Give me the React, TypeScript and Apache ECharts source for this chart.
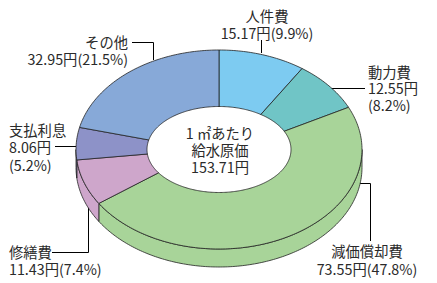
import React, { useEffect, useRef } from "react";
import * as echarts from "echarts";

const names = ["人件費", "動力費", "減価償却費", "修繕費", "支払利息", "その他"];
const values = [15.17, 12.55, 73.55, 11.43, 8.06, 32.95];
const percents = [9.9, 8.2, 47.8, 7.4, 5.2, 21.5];
const colors = ["#7dcbf1", "#70c5c6", "#a8d499", "#cea6cb", "#8d92c8", "#87a9d8"];
const centerLines = ["1 ㎡あたり", "給水原価", "153.71円"];

const CX = 219;
const CY = 149.5;
const RX = 143;
const RY = 99.5;
const IRX = 72;
const IRY = 43;
const DEPTH = 18;

const FONT = "'Noto Sans CJK JP', 'Noto Sans', sans-serif";
const TXT = "#2a2a2a";

function pt(rx: number, ry: number, deg: number, dy = 0) {
  const r = (deg * Math.PI) / 180;
  return [CX + rx * Math.cos(r), CY - ry * Math.sin(r) + dy];
}

function arc(rx: number, ry: number, a0: number, a1: number, dy = 0) {
  const pts: number[][] = [];
  const n = Math.max(2, Math.ceil(Math.abs(a1 - a0)));
  for (let k = 0; k <= n; k++) {
    pts.push(pt(rx, ry, a0 + ((a1 - a0) * k) / n, dy));
  }
  return pts;
}

function label(x: number, yc: number, lines: string[], align: string, lh = 17) {
  return {
    type: "text",
    x,
    y: yc,
    style: {
      text: lines.join("\n"),
      fill: TXT,
      font: `14.3px ${FONT}`,
      lineHeight: lh,
      textAlign: align,
      textVerticalAlign: "middle",
    },
  };
}

function lead(points: number[][]) {
  return {
    type: "polyline",
    shape: { points },
    style: { stroke: "#000", lineWidth: 1, fill: null },
  };
}

export default function App() {
  const ref = useRef<HTMLDivElement>(null);
  useEffect(() => {
    if (!ref.current) return;
    const chart = echarts.init(ref.current, null, { renderer: "svg" });
    const total = values.reduce((a, b) => a + b, 0);
    const cum: number[] = [];
    values.reduce((acc, v, i) => {
      cum[i] = acc;
      return acc + v;
    }, 0);
    const lbl = (i: number) => `${values[i].toFixed(2)}円`;
    const pct = (i: number) => `(${percents[i].toFixed(1)}%)`;

    chart.setOption({
      animation: false,
      backgroundColor: "#fff",
      series: [
        {
          type: "custom",
          coordinateSystem: "none",
          data: values,
          renderItem: (params: any, api: any) => {
            const i = params.dataIndex;
            const v = api.value(0);
            const a0 = 90 - (cum[i] / total) * 360;
            const a1 = a0 - (v / total) * 360;
            const children: any[] = [];
            for (const off of [0, -360, 360]) {
              const s0 = Math.min(a0 + off, 0);
              const s1 = Math.max(a1 + off, -180);
              if (s0 > s1) {
                const top = arc(RX, RY, s0, s1);
                const bot = arc(RX, RY, s1, s0, DEPTH);
                children.push({
                  type: "polygon",
                  shape: { points: top.concat(bot) },
                  style: { fill: colors[i], stroke: "#222", lineWidth: 0.8, lineJoin: "round" },
                });
              }
            }
            const outer = arc(RX, RY, a0, a1);
            const inner = arc(IRX, IRY, a1, a0);
            children.push({
              type: "polygon",
              shape: { points: outer.concat(inner) },
              style: { fill: colors[i], stroke: "#222", lineWidth: 0.8, lineJoin: "round" },
            });
            return { type: "group", children };
          },
        },
      ],
      graphic: [
        label(128, 49.5, [names[5], `${lbl(5)}${pct(5)}`], "right"),
        lead([[132, 42.5], [153.5, 42.5], [153.5, 60]]),
        label(267, 23.5, [names[0], `${lbl(0)}${pct(0)}`], "center"),
        lead([[261.5, 40], [261.5, 53]]),
        label(368, 87.5, [names[1], lbl(1), pct(1)], "left", 16.5),
        lead([[330, 88.5], [365, 88.5]]),
        label(9, 146.5, [names[4], lbl(4), pct(4)], "left", 17.5),
        lead([[55, 146.5], [76, 146.5]]),
        label(9, 259.5, [names[3], `${lbl(3)}${pct(3)}`], "left"),
        lead([[52, 252.5], [88.5, 252.5], [88.5, 190]]),
        label(367, 259, [names[2], `${lbl(2)}${pct(2)}`], "center", 18),
        lead([[355, 183.5], [370.5, 183.5], [370.5, 241]]),
        label(220, 149, centerLines, "center"),
      ],
    });
    return () => chart.dispose();
  }, []);
  return (
    <div
      ref={ref}
      style={{ position: "fixed", left: 0, top: 0, width: 437, height: 283 }}
    />
  );
}
